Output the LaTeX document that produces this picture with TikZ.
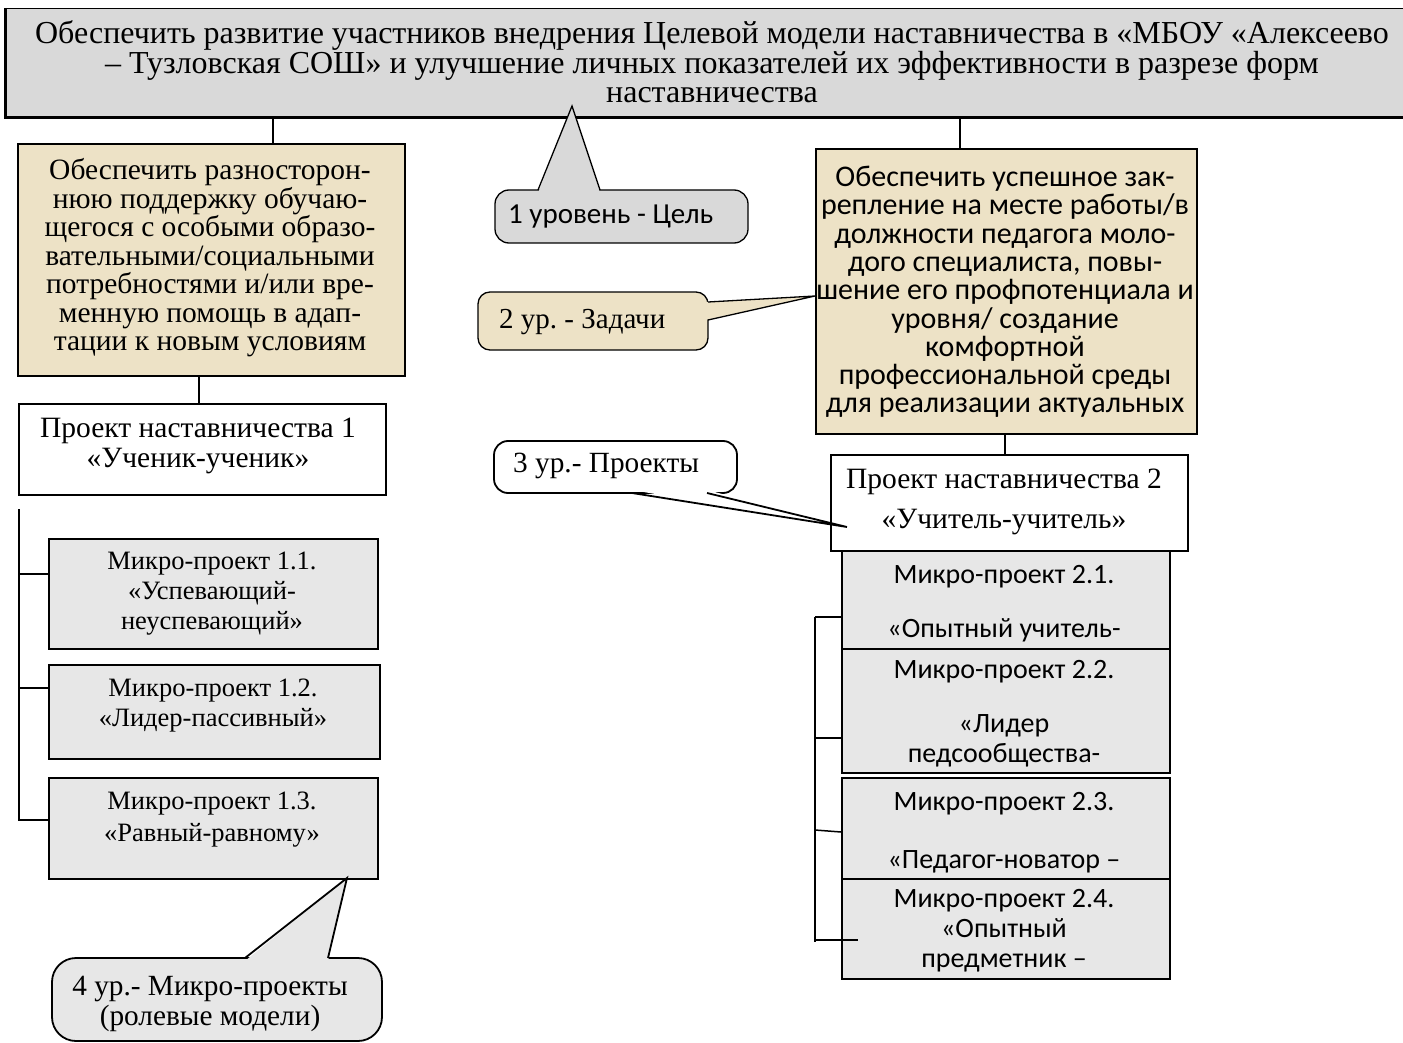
\documentclass[tikz,border=0pt]{standalone}
\usepackage{fontspec}
\setmainfont{Liberation Serif}
\newfontfamily\calfont{Carlito}
\definecolor{topgray}{RGB}{217,217,217}
\definecolor{parch}{RGB}{237,226,198}
\definecolor{speck}{RGB}{231,231,231}
\frenchspacing
\begin{document}
\begin{tikzpicture}[x=1pt,y=-1pt,
  box/.style={draw, line width=1.8pt, inner sep=0pt, anchor=north west},
  txt/.style={inner sep=0pt, align=center},
  mline/.style={inner sep=0pt, anchor=base, font=\calfont\fontsize{28}{29}\selectfont},
  conn/.style={line width=1.5pt},
  cline/.style={line width=1.5pt}]
\useasboundingbox (0,0) rectangle (1403,1043);
% ---------- level 1 ----------
\node[box, line width=1.2pt, fill=topgray, minimum width=1405pt, minimum height=108pt] (top) at (5,8) {};
\draw[line width=3pt] (top.north west) -- (top.south west) -- (top.south east);
\node[txt, font=\fontsize{32}{29.5}\selectfont] (topt) at (712,62)
  {Обеспечить развитие участников внедрения Целевой модели наставничества в «МБОУ «Алексеево\\
   – Тузловская СОШ» и улучшение личных показателей их эффективности в разрезе форм\\
   наставничества};
% ---------- level 2 ----------
\node[box, fill=parch, minimum width=387pt, minimum height=232pt] (task1) at (17,143) {};
\node[txt, font=\fontsize{29.5}{28.5}\selectfont] (task1t) at (210,258)
  {Обеспечить разносторон-\\нюю поддержку обучаю-\\щегося с особыми образо-\\вательными/социальными\\потребностями и/или вре-\\менную помощь в адап-\\тации к новым условиям};
\node[box, fill=parch, minimum width=381pt, minimum height=285pt] (task2) at (815,148) {};
\node[txt, font=\calfont\fontsize{30}{28.3}\selectfont] (task2t) at (1005,292)
  {Обеспечить успешное зак-\\репление на месте работы/в\\должности педагога моло-\\дого специалиста, повы-\\шение его профпотенциала и\\уровня/ создание\\комфортной\\профессиональной среды\\для реализации актуальных};
\draw[conn] (top.south -| 273,0) -- (task1.north -| 273,0);
\draw[conn] (top.south -| 960,0) -- (task2.north -| 960,0);
% ---------- level 3 ----------
\node[box, fill=white, minimum width=367pt, minimum height=91pt] (proj1) at (18,403) {};
\node[txt, font=\fontsize{29.5}{30}\selectfont] (proj1t) at (198,446)
  {Проект наставничества 1\\«Ученик-ученик»};
\node[box, fill=white, minimum width=357pt, minimum height=96pt] (proj2) at (830,454) {};
\node[txt, font=\fontsize{29.5}{40}\selectfont] (proj2t) at (1004,502)
  {Проект наставничества 2\\«Учитель-учитель»};
\draw[conn] (task1.south -| 199,0) -- (proj1.north -| 199,0);
\draw[conn] (task2.south -| 1005,0) -- (proj2.north -| 1005,0);
% ---------- level 4 left ----------
\node[box, fill=speck, minimum width=329pt, minimum height=110pt] (m11) at (48,538) {};
\node[txt, font=\fontsize{26.5}{30}\selectfont] (m11t) at (212,594)
  {Микро-проект 1.1.\\«Успевающий-\\неуспевающий»};
\node[box, fill=speck, minimum width=331pt, minimum height=94pt] (m12) at (48,664) {};
\node[txt, font=\fontsize{26.5}{30}\selectfont] (m12t) at (213,706)
  {Микро-проект 1.2.\\«Лидер-пассивный»};
\node[box, fill=speck, minimum width=329pt, minimum height=101pt] (m13) at (48,777) {};
\node[txt, font=\fontsize{26.5}{32}\selectfont] (m13t) at (212,820)
  {Микро-проект 1.3.\\«Равный-равному»};
\coordinate (lb) at (19,509);
\draw[cline] (lb) -- (19,821);
\draw[cline] (19,574) -- (m11.west |- 0,574);
\draw[cline] (19,688) -- (m12.west |- 0,688);
\draw[cline] (19,820) -- (m13.west |- 0,820);
% ---------- level 4 right ----------
\node[box, fill=speck, minimum width=328pt, minimum height=98pt] (m21) at (841,550) {};
\node[box, fill=speck, minimum width=328pt, minimum height=124pt] (m22) at (841,648) {};
\node[box, fill=speck, minimum width=328pt, minimum height=101pt] (m23) at (841,777) {};
\node[box, fill=speck, minimum width=328pt, minimum height=100pt] (m24) at (841,878) {};
\node[mline] (m21a) at (1004,583) {Микро-проект 2.1.};
\node[mline] (m21b) at (1004,637) {«Опытный учитель-};
\node[mline] (m22a) at (1004,678) {Микро-проект 2.2.};
\node[mline] (m22b) at (1004,732) {«Лидер};
\node[mline] (m22c) at (1004,762) {педсообщества-};
\node[mline] (m23a) at (1004,810) {Микро-проект 2.3.};
\node[mline] (m23b) at (1004,868) {«Педагог-новатор –};
\node[mline] (m24a) at (1004,907) {Микро-проект 2.4.};
\node[mline] (m24b) at (1004,937) {«Опытный};
\node[mline] (m24c) at (1004,967) {предметник –};
\coordinate (rb) at (815,617);
\draw[cline] (rb) -- (815,942);
\draw[cline] (815,617) -- (m21.west |- 0,617);
\draw[cline] (815,738) -- (m22.west |- 0,738);
\draw[cline] (815,830) -- (m23.west |- 0,832);
\draw[cline] (815,940) -- (858,940);
% ---------- callouts ----------
% 1
\draw[fill=topgray, line width=1.3pt, rounded corners=14pt] (495,190) rectangle (748,243);
\fill[topgray] (538,193) -- (572,106) -- (600,193) -- cycle;
\draw[line width=1.3pt] (538,190) -- (572,106) -- (600,190);
\node[txt, font=\calfont\fontsize{29}{30}\selectfont, anchor=west] (c1t) at (508,217) {1 уровень - Цель};
% 2
\draw[fill=parch, line width=1.3pt, rounded corners=12pt] (478,292) rectangle (708,350);
\fill[parch] (705,302) -- (815,296) -- (705,320) -- cycle;
\draw[line width=1.3pt] (708,302) -- (815,296) -- (708,320);
\node[txt, font=\fontsize{29}{30}\selectfont, anchor=west] (c2t) at (499,322) {2 ур. - Задачи};
% 3
\draw[fill=white, line width=1.8pt, rounded corners=14pt] (494,441) rectangle (737,493);
\fill[white] (632,490) -- (847,527) -- (707,490) -- cycle;
\draw[line width=1.8pt] (632,493) -- (847,527) -- (707,493);
\node[txt, font=\fontsize{29.3}{30}\selectfont, anchor=west] (c3t) at (513,466) {3 ур.- Проекты};
% 4
\draw[fill=speck, line width=1.8pt, rounded corners=24pt] (52,958) rectangle (382,1041);
\fill[speck] (245,961) -- (347,878) -- (328,961) -- cycle;
\draw[line width=1.8pt] (245,958) -- (347,878) -- (328,958);
\node[txt, font=\fontsize{29.3}{30}\selectfont] (c4t) at (210,1004) {4 ур.- Микро-проекты\\(ролевые модели)};
\end{tikzpicture}
\end{document}
